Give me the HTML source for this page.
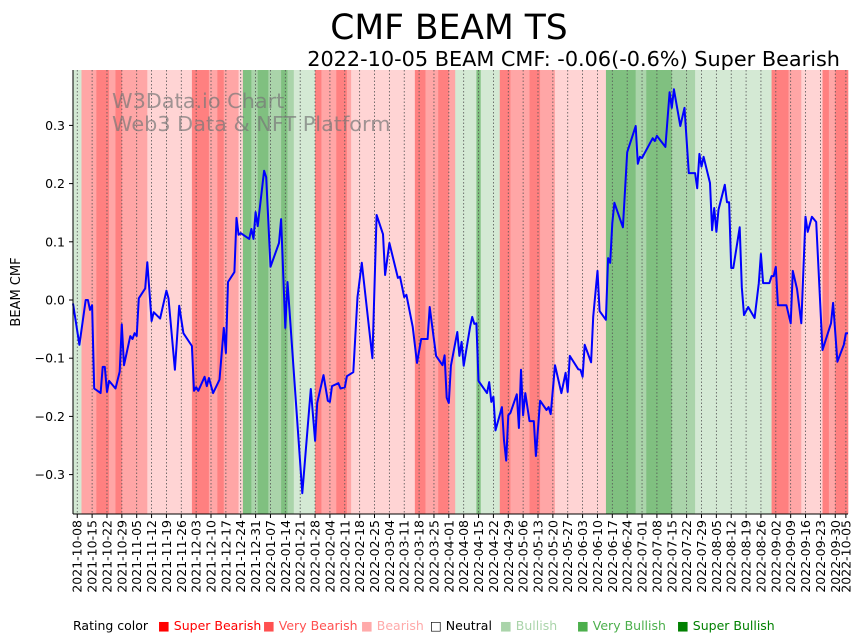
<!DOCTYPE html>
<html><head><meta charset="utf-8"><style>
body{margin:0;background:#fff;}
svg{display:block;font-family:"DejaVu Sans","Liberation Sans",sans-serif;}
</style></head><body>
<svg id="chart" width="867" height="641" viewBox="0 0 867 641" xmlns="http://www.w3.org/2000/svg">
<text x="449" y="39" font-size="34.5" text-anchor="middle">CMF BEAM TS</text>
<text x="840" y="66" font-size="20.8" text-anchor="end">2022-10-05 BEAM CMF: -0.06(-0.6%) Super Bearish</text>
<g id="bands"></g>
<g id="grid"></g>
<text x="112" y="108" font-size="20.8" fill="#777" fill-opacity="0.7">W3Data.io Chart</text>
<text x="112" y="131" font-size="20.8" fill="#777" fill-opacity="0.7">Web3 Data &amp; NFT Platform</text>
<polyline id="line" fill="none" stroke="#0000ff" stroke-width="2" stroke-linejoin="round"/>
<g id="yaxis"></g>
<g id="xaxis"></g>
<line x1="73" y1="70" x2="73" y2="514" stroke="#000" stroke-width="1"/>
<line x1="73" y1="514" x2="848" y2="514" stroke="#000" stroke-width="1"/>
<text transform="translate(20,292) rotate(-90)" font-size="13" text-anchor="middle">BEAM CMF</text>
<g id="legend" font-size="12.5">
<text x="73" y="630">Rating color</text>
<g><text x="158" y="630" fill="#ff0000">■ Super Bearish</text></g>
<g><text x="263" y="630" fill="#ff5050">■ Very Bearish</text></g>
<g><text x="361" y="630" fill="#ffaaaa">■ Bearish</text></g>
<g><text x="430" y="630" fill="#000">□ Neutral</text></g>
<g><text x="500" y="630" fill="#aad4aa">■ Bullish</text></g>
<g><text x="577" y="630" fill="#4caf4c">■ Very Bullish</text></g>
<g><text x="677" y="630" fill="#008000">■ Super Bullish</text></g>
</g>
</svg>
<script>
// day 0 = 2021-10-06
const bandStarts = [0,4,11,17,20,23,35,56,64,68,71,78,80,84,87,92,98,101,104,114,117,124,129,131,161,166,172,177,180,190,192,201,206,215,220,227,251,265,270,282,293,329,337,343,353,356,359];
const bandRatings = ['Bu','VB','SB','VB','SB','VB','B','SB','VB','SB','VB','B','SBu','VBu','SBu','VBu','SBu','VBu','Bu','SB','VB','SB','VB','B','SB','VB','SB','VB','Bu','SBu','Bu','SB','VB','SB','VB','B','SBu','VBu','SBu','VBu','Bu','SB','VB','B','SB','VB','SB'];
const dayEnd = 365;
const lineDays = [0,3,6,7,8,9,10,13,14,15,16,17,20,22,23,24,27,28,29,30,31,34,35,37,38,41,44,45,48,50,52,56,57,58,59,62,63,64,66,69,71,72,73,76,77,78,79,83,84,85,86,87,90,91,93,97,98,100,101,108,112,114,115,118,120,121,122,125,126,128,129,132,134,136,141,143,146,147,149,153,154,156,157,160,162,164,167,168,169,171,174,175,176,177,178,181,182,183,184,187,188,189,190,191,195,196,197,198,199,202,203,204,205,206,209,210,211,212,213,215,217,218,220,223,224,225,227,230,232,233,234,238,239,240,241,244,245,247,248,251,252,253,254,255,259,261,265,266,267,268,273,274,275,279,281,282,283,286,288,290,293,294,295,296,297,300,301,302,303,304,307,308,309,310,311,314,315,316,318,321,323,324,325,328,329,330,331,332,336,338,339,341,343,345,346,348,350,353,357,358,360,363,364,365];
const lineValues = [-0.006,-0.077,0,0,-0.017,-0.009,-0.152,-0.16,-0.115,-0.115,-0.158,-0.139,-0.152,-0.123,-0.042,-0.112,-0.062,-0.067,-0.057,-0.062,0.003,0.02,0.065,-0.036,-0.021,-0.032,0.016,0.003,-0.12,-0.01,-0.057,-0.079,-0.156,-0.15,-0.156,-0.132,-0.148,-0.134,-0.16,-0.137,-0.048,-0.091,0.031,0.048,0.141,0.112,0.115,0.105,0.122,0.105,0.151,0.127,0.222,0.211,0.057,0.098,0.139,-0.048,0.031,-0.332,-0.153,-0.242,-0.177,-0.129,-0.173,-0.175,-0.148,-0.143,-0.152,-0.15,-0.131,-0.124,0.005,0.064,-0.1,0.146,0.113,0.043,0.098,0.038,0.04,0.005,0.009,-0.046,-0.108,-0.067,-0.067,-0.012,-0.04,-0.096,-0.112,-0.095,-0.168,-0.177,-0.113,-0.055,-0.096,-0.072,-0.113,-0.046,-0.029,-0.041,-0.04,-0.139,-0.16,-0.141,-0.175,-0.166,-0.224,-0.184,-0.241,-0.276,-0.198,-0.194,-0.162,-0.22,-0.12,-0.198,-0.16,-0.208,-0.208,-0.268,-0.173,-0.189,-0.184,-0.196,-0.112,-0.16,-0.125,-0.158,-0.096,-0.119,-0.12,-0.132,-0.077,-0.107,-0.029,0.05,-0.019,-0.034,0.072,0.064,0.132,0.167,0.125,0.254,0.299,0.234,0.246,0.244,0.278,0.273,0.282,0.263,0.357,0.33,0.362,0.299,0.33,0.218,0.218,0.192,0.251,0.229,0.246,0.201,0.12,0.158,0.117,0.155,0.198,0.168,0.168,0.055,0.055,0.125,0.022,-0.026,-0.012,-0.031,0.029,0.079,0.029,0.029,0.041,0.041,0.057,-0.009,-0.009,-0.04,0.05,0.019,-0.04,0.143,0.117,0.143,0.134,-0.086,-0.04,-0.005,-0.106,-0.077,-0.057,-0.057];
const yTicks = [-0.3,-0.2,-0.1,0.0,0.1,0.2,0.3];
const yTickLabels = ['−0.3','−0.2','−0.1','0.0','0.1','0.2','0.3'];
const xTickDays = [2,9,16,23,30,37,44,51,58,65,72,79,86,93,100,107,114,121,128,135,142,149,156,163,170,177,184,191,198,205,212,219,226,233,240,247,254,261,268,275,282,289,296,303,310,317,324,331,338,345,352,359,364];
const xTickLabels = ['2021-10-08','2021-10-15','2021-10-22','2021-10-29','2021-11-05','2021-11-12','2021-11-19','2021-11-26','2021-12-03','2021-12-10','2021-12-17','2021-12-24','2021-12-31','2022-01-07','2022-01-14','2022-01-21','2022-01-28','2022-02-04','2022-02-11','2022-02-18','2022-02-25','2022-03-04','2022-03-11','2022-03-18','2022-03-25','2022-04-01','2022-04-08','2022-04-15','2022-04-22','2022-04-29','2022-05-06','2022-05-13','2022-05-20','2022-05-27','2022-06-03','2022-06-10','2022-06-17','2022-06-24','2022-07-01','2022-07-08','2022-07-15','2022-07-22','2022-07-29','2022-08-05','2022-08-12','2022-08-19','2022-08-26','2022-09-02','2022-09-09','2022-09-16','2022-09-23','2022-09-30','2022-10-05'];

const NS='http://www.w3.org/2000/svg';
const colors={SB:'#ff8080',VB:'#ffa6a6',B:'#ffd4d4',N:'#ffffff',Bu:'#d4e9d4',VBu:'#aad4aa',SBu:'#80c080'};
function xs(d){return 73+d*(775/dayEnd);}
function ys(v){return 300-v*582;}
function mk(tag,attrs,parent){const e=document.createElementNS(NS,tag);for(const k in attrs)e.setAttribute(k,attrs[k]);parent.appendChild(e);return e;}

const bands=document.getElementById('bands');
bandStarts.forEach((s,i)=>{
  const e=i+1<bandStarts.length?bandStarts[i+1]:dayEnd;
  const r=mk('rect',{x:xs(s),y:70,width:xs(e)-xs(s)+0.3,height:444,fill:colors[bandRatings[i]]},bands);
  
  
});
const grid=document.getElementById('grid'),xaxis=document.getElementById('xaxis');
xTickDays.forEach((d,i)=>{
  const x=xs(d);
  const g=mk('line',{x1:x,y1:70,x2:x,y2:514,stroke:'#555','stroke-width':0.8,'stroke-dasharray':'1.5,2'},grid);
  
  
  mk('line',{x1:x,y1:514,x2:x,y2:518,stroke:'#000'},xaxis);
  const t=mk('text',{transform:`translate(${x+4.5},520) rotate(-90)`,'font-size':12.5,'text-anchor':'end'},xaxis);
  t.textContent=xTickLabels[i];
  
  
});
const yaxis=document.getElementById('yaxis');
yTicks.forEach((v,i)=>{
  const y=ys(v);
  mk('line',{x1:69,y1:y,x2:73,y2:y,stroke:'#000'},yaxis);
  const t=mk('text',{x:65,y:y+4.5,'font-size':12.5,'text-anchor':'end'},yaxis);
  t.textContent=yTickLabels[i];
  
  
});
document.getElementById('line').setAttribute('points',lineDays.map((d,i)=>xs(d).toFixed(1)+','+ys(lineValues[i]).toFixed(1)).join(' '));
</script>
</body></html>
